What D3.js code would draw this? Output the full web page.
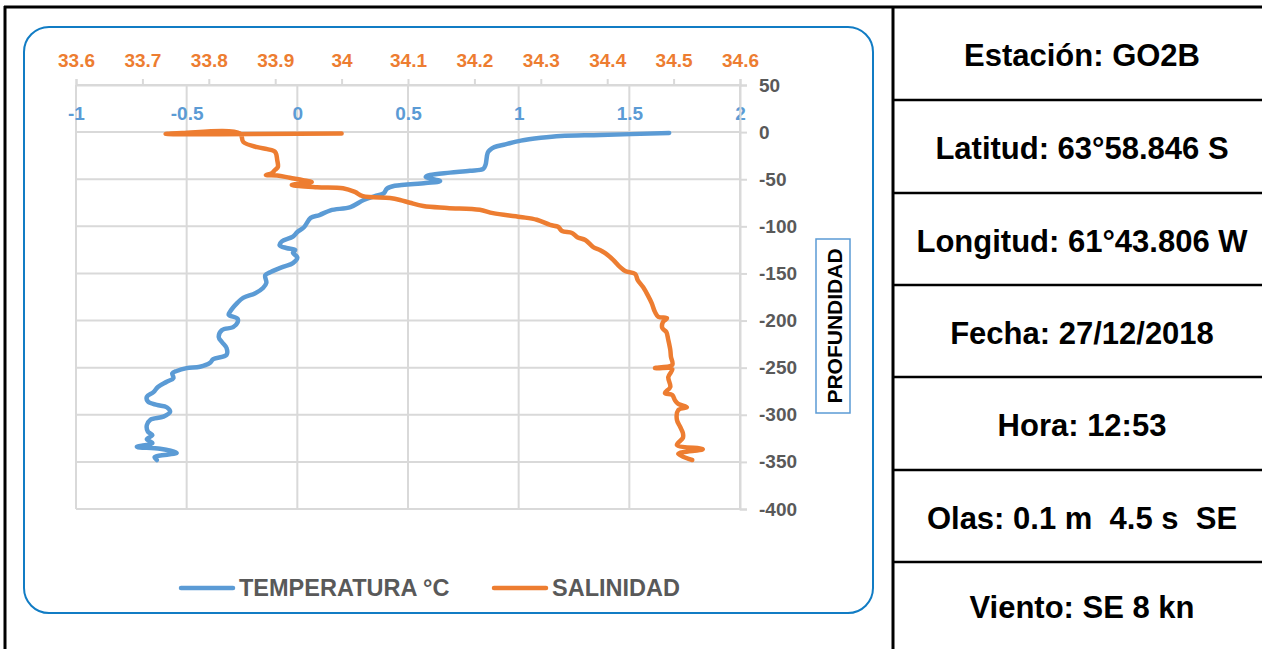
<!DOCTYPE html>
<html>
<head>
<meta charset="utf-8">
<script src="https://cdn.jsdelivr.net/npm/d3@7"></script>
<style>
  body { margin: 0; background: #fff; }
  svg { display: block; }
</style>
</head>
<body>
<svg id="chart" width="1262" height="649"></svg>
<script>
// CTD profile, station GO2B: depth (m) with temperature (°C) and salinity
const depthTemp = [-1,-3,-4,-6,-9,-13,-16,-19,-22,-35,-39,-41,-43,-45.5,-47.5,-52,-54,-57,-60,-65,-68,-72,-79.5,-83,-88,-91,-101,-106,-111,-116,-120,-123,-125,-128,-133,-139,-143,-148.5,-152,-160,-165.5,-171,-176,-181,-191,-194,-198,-202,-207,-210,-217.5,-223,-229,-236.5,-241,-245,-249,-250.5,-253.5,-256,-261,-265,-270.5,-276,-281,-286,-289.5,-292,-297,-302,-305.5,-311,-318,-321.5,-326,-330,-334,-336,-340.5,-345,-348];
const temperature = [1.68,1.37,1.19,1.10,1.01,0.94,0.89,0.87,0.86,0.85,0.84,0.78,0.69,0.60,0.58,0.645,0.58,0.44,0.405,0.39,0.35,0.30,0.24,0.15,0.10,0.06,0.03,0.00,-0.02,-0.07,-0.08,-0.05,-0.01,-0.02,0.00,-0.02,-0.065,-0.12,-0.145,-0.14,-0.155,-0.19,-0.245,-0.27,-0.305,-0.31,-0.27,-0.27,-0.29,-0.34,-0.355,-0.34,-0.32,-0.32,-0.38,-0.395,-0.44,-0.50,-0.545,-0.565,-0.56,-0.59,-0.63,-0.65,-0.68,-0.675,-0.635,-0.59,-0.575,-0.605,-0.665,-0.68,-0.675,-0.655,-0.68,-0.655,-0.725,-0.62,-0.545,-0.645,-0.635];

const depthSal = [-1.5,-2,-1,-1.5,-10.5,-16,-18,-21,-29.5,-37,-40,-43.5,-45.5,-46,-48.5,-51,-53,-56,-58.5,-59.5,-63.5,-68,-70,-72,-75,-78.5,-80.5,-82.5,-86,-90,-93,-98.5,-100.5,-105,-107,-111.5,-114.5,-122,-125,-128.5,-135.5,-143,-147.5,-150.5,-157,-164.5,-173,-181.5,-191,-196,-197.5,-201.5,-208,-212,-220.5,-231,-238.5,-247,-250.5,-251.5,-260,-270.5,-277,-279,-284.5,-288.5,-292,-295,-305.5,-313,-319.5,-324.5,-332,-336.5,-341.5,-348];
const salinity = [34.00,33.735,33.76,33.847,33.852,33.873,33.888,33.90,33.903,33.904,33.90,33.895,33.886,33.903,33.922,33.942,33.955,33.925,33.963,34.002,34.02,34.032,34.073,34.088,34.103,34.123,34.159,34.208,34.228,34.269,34.294,34.314,34.326,34.332,34.347,34.355,34.367,34.379,34.389,34.397,34.409,34.419,34.427,34.442,34.446,34.454,34.461,34.467,34.472,34.477,34.49,34.484,34.483,34.489,34.492,34.495,34.496,34.498,34.472,34.498,34.492,34.495,34.487,34.498,34.502,34.507,34.52,34.507,34.505,34.51,34.514,34.514,34.505,34.544,34.507,34.528];

const tempTicks = [-1, -0.5, 0, 0.5, 1, 1.5, 2];
const salTicks = [33.6, 33.7, 33.8, 33.9, 34, 34.1, 34.2, 34.3, 34.4, 34.5, 34.6];
const depthTicks = [50, 0, -50, -100, -150, -200, -250, -300, -350, -400];

const seriesNames = ["TEMPERATURA °C", "SALINIDAD"];
const depthTitle = "PROFUNDIDAD";
const infoRows = [
  "Estación: GO2B",
  "Latitud: 63°58.846 S",
  "Longitud: 61°43.806 W",
  "Fecha: 27/12/2018",
  "Hora: 12:53",
  "Olas: 0.1 m  4.5 s  SE",
  "Viento: SE 8 kn"
];

const BLUE = "#5b9bd5", ORANGE = "#ed7d31", GRID = "#d9d9d9", LABEL = "#595959";
const FONT = "'Liberation Sans', Arial, sans-serif";

const svg = d3.select("#chart");

// ---- plot scales ----
const plot = { left: 76, right: 740, top: 85, bottom: 509 };
const xT = d3.scaleLinear().domain([-1, 2]).range([plot.left, plot.right]);
const xS = d3.scaleLinear().domain([33.6, 34.6]).range([plot.left, plot.right]);
const y = d3.scaleLinear().domain([-400, 50]).range([plot.bottom, plot.top]);

// ---- chart frame (rounded) ----
svg.append("rect")
  .attr("x", 24).attr("y", 27).attr("width", 849).attr("height", 586)
  .attr("rx", 25).attr("ry", 25)
  .attr("fill", "#fff").attr("stroke", "#117cc4").attr("stroke-width", 2);

// ---- gridlines ----
const grid = svg.append("g").attr("stroke", GRID).attr("stroke-width", 2);
grid.selectAll("line.v").data(tempTicks).join("line")
  .attr("x1", d => xT(d)).attr("x2", d => xT(d))
  .attr("y1", y(50)).attr("y2", y(-400));
grid.selectAll("line.h").data(depthTicks).join("line")
  .attr("x1", plot.left).attr("x2", plot.right)
  .attr("y1", d => y(d)).attr("y2", d => y(d));

// ---- salinity axis (top) ----
const salAxis = svg.append("g")
  .attr("transform", `translate(0,${y(50)})`)
  .call(d3.axisTop(xS).tickValues(salTicks).tickSize(6).tickPadding(12).tickFormat(d => String(d)));
salAxis.select(".domain").attr("stroke", GRID).attr("stroke-width", 2);
salAxis.selectAll(".tick line").attr("stroke", GRID).attr("stroke-width", 2);
salAxis.selectAll("text")
  .attr("fill", ORANGE).attr("font-family", FONT).attr("font-weight", "bold").attr("font-size", 19);

// ---- temperature axis labels ----
const tempAxis = svg.append("g")
  .attr("transform", "translate(0,113)")
  .call(d3.axisBottom(xT).tickValues(tempTicks).tickSize(0).tickFormat(d => String(d)));
tempAxis.select(".domain").remove();
tempAxis.selectAll("text")
  .attr("y", 0).attr("dy", "0.36em")
  .attr("fill", BLUE).attr("font-family", FONT).attr("font-weight", "bold").attr("font-size", 19);

// ---- depth axis (right) ----
const depthAxis = svg.append("g")
  .attr("transform", `translate(${plot.right},0)`)
  .call(d3.axisRight(y).tickValues(depthTicks).tickSize(7).tickPadding(12).tickFormat(d => String(d)));
depthAxis.select(".domain").attr("stroke", GRID).attr("stroke-width", 2);
depthAxis.selectAll(".tick line").attr("stroke", GRID).attr("stroke-width", 2);
depthAxis.selectAll("text")
  .attr("fill", LABEL).attr("font-family", FONT).attr("font-weight", "bold").attr("font-size", 19);

// ---- profile lines ----
const curve = d3.curveCatmullRom.alpha(0.5);
const tempLine = d3.line().x(i => xT(temperature[i])).y(i => y(depthTemp[i])).curve(curve);
const salLine = d3.line().x(i => xS(salinity[i])).y(i => y(depthSal[i])).curve(curve);

svg.append("path")
  .attr("d", tempLine(d3.range(temperature.length)))
  .attr("fill", "none").attr("stroke", BLUE).attr("stroke-width", 4.5)
  .attr("stroke-linejoin", "round").attr("stroke-linecap", "round");
svg.append("path")
  .attr("d", salLine(d3.range(salinity.length)))
  .attr("fill", "none").attr("stroke", ORANGE).attr("stroke-width", 4.5)
  .attr("stroke-linejoin", "round").attr("stroke-linecap", "round");

// ---- depth title box ----
svg.append("rect")
  .attr("x", 816).attr("y", 239).attr("width", 34).attr("height", 174)
  .attr("fill", "#fff").attr("stroke", BLUE).attr("stroke-width", 1.5);
svg.append("text")
  .attr("transform", "translate(834,326) rotate(-90)")
  .attr("text-anchor", "middle").attr("dominant-baseline", "central")
  .attr("font-family", FONT).attr("font-weight", "bold").attr("font-size", 21)
  .attr("fill", "#000").text(depthTitle);

// ---- legend ----
const legendItems = [
  { name: seriesNames[0], color: BLUE, x: 181 },
  { name: seriesNames[1], color: ORANGE, x: 494 }
];
const lg = svg.append("g").selectAll("g").data(legendItems).join("g")
  .attr("transform", d => `translate(${d.x},588)`);
lg.append("line").attr("x1", 0).attr("x2", 52).attr("y1", 0).attr("y2", 0)
  .attr("stroke", d => d.color).attr("stroke-width", 4.5).attr("stroke-linecap", "round");
lg.append("text").attr("x", 58).attr("dy", "0.36em")
  .attr("font-family", FONT).attr("font-weight", "bold").attr("font-size", 23.5)
  .attr("fill", LABEL).text(d => d.name);

// ---- page frame and info table ----
const frame = svg.append("g").attr("stroke", "#000").attr("stroke-width", 3);
frame.append("line").attr("x1", 5).attr("x2", 5).attr("y1", 6).attr("y2", 649);
frame.append("line").attr("x1", 4).attr("x2", 1262).attr("y1", 7).attr("y2", 7);
frame.append("line").attr("x1", 893).attr("x2", 893).attr("y1", 6).attr("y2", 649);

const rowEdges = [7, 100, 193, 285, 377, 470, 562, 649];
frame.selectAll("line.row").data(rowEdges.slice(1, -1)).join("line")
  .attr("x1", 893).attr("x2", 1262).attr("y1", d => d).attr("y2", d => d)
  .attr("stroke-width", 2.5);

svg.append("g").selectAll("text").data(infoRows).join("text")
  .attr("x", 1082)
  .attr("y", (d, i) => (rowEdges[i] + rowEdges[i + 1]) / 2 + 2)
  .attr("text-anchor", "middle").attr("dominant-baseline", "central")
  .attr("font-family", FONT).attr("font-weight", "bold").attr("font-size", 31)
  .style("white-space", "pre")
  .attr("fill", "#000").text(d => d);
</script>
</body>
</html>
